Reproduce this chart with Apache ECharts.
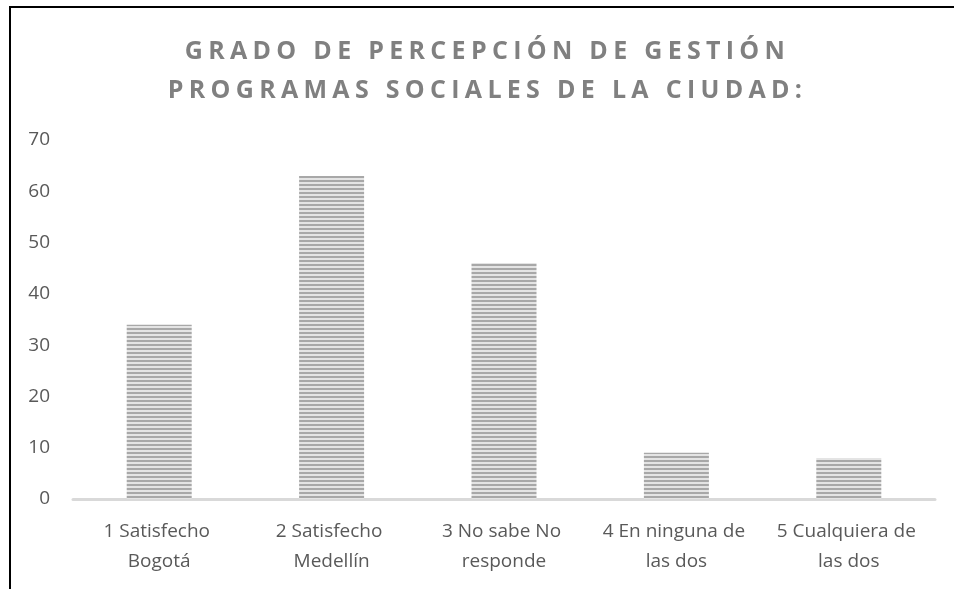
<!DOCTYPE html>
<html>
<head>
<meta charset="utf-8">
<script src="https://cdn.jsdelivr.net/npm/echarts@6/dist/echarts.min.js"></script>
<style>
  html, body { margin: 0; padding: 0; background: #fff; }
  #wrap { position: relative; width: 954px; height: 589px; overflow: hidden; }
  #main { position: absolute; left: 0; top: 0; width: 954px; height: 589px; }
  #frame { position: absolute; left: 9px; top: 6px; width: 960px; height: 600px;
           border-top: 2px solid #000; border-left: 2px solid #000; pointer-events: none; }
  #titulo { position: absolute; left: 0; width: 975px; top: 30px; text-align: center;
            font-family: "Open Sans", sans-serif; font-weight: bold; font-size: 25px;
            line-height: 39px; letter-spacing: 5.3px; color: #808080; }
</style>
</head>
<body>
<div id="wrap">
  <div id="main"></div>
  <div id="frame"></div>
  <div id="titulo">GRADO DE PERCEPCIÓN DE GESTIÓN<br>PROGRAMAS SOCIALES DE LA CIUDAD:</div>
</div>
<script>
var categorias = ['1 Satisfecho Bogotá', '2 Satisfecho Medellín', '3 No sabe No responde', '4 En ninguna de las dos', '5 Cualquiera de las dos'];
var valores = [34, 63, 46, 9, 8];
var ticksY = [0, 10, 20, 30, 40, 50, 60, 70];

// trama de rayas horizontales para las barras
var trama = document.createElement('canvas');
trama.width = 4;
trama.height = 4;
var ctx = trama.getContext('2d');
ctx.fillStyle = '#e4e4e4';
ctx.fillRect(0, 0, 4, 4);
ctx.fillStyle = '#a8a8a8';
ctx.fillRect(0, 0, 4, 2);

var myChart = echarts.init(document.getElementById('main'));

var option = {
    animation: false,
    textStyle: { fontFamily: 'Open Sans' },
    grid: { left: 73, right: 19, top: 140, bottom: 90 },
    xAxis: {
        type: 'category',
        data: categorias,
        axisLine: { lineStyle: { color: '#d9d9d9', width: 3 } },
        axisTick: { show: false },
        axisLabel: {
            color: '#595959', fontSize: 19, lineHeight: 30, margin: 18,
            width: 168, overflow: 'break', interval: 0
        }
    },
    yAxis: {
        type: 'value',
        min: ticksY[0],
        max: ticksY[ticksY.length - 1],
        interval: 10,
        axisLine: { show: false },
        axisTick: { show: false },
        splitLine: { show: false },
        axisLabel: { color: '#595959', fontSize: 19, margin: 23 }
    },
    series: [
        {
            type: 'bar',
            data: valores,
            barWidth: 65,
            itemStyle: {
                color: { image: trama, repeat: 'repeat' }
            }
        }
    ]
};

myChart.setOption(option);
</script>
</body>
</html>
